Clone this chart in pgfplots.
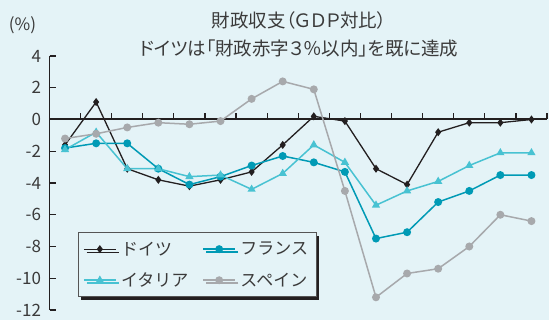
\documentclass[border=0pt]{standalone}
\usepackage{fontspec}
\setmainfont[RawFeature={+palt}]{Noto Sans CJK JP}
\newfontfamily\jpfull{Noto Sans CJK JP}
\usepackage{pgfplots}
\pgfplotsset{compat=1.18}
\usetikzlibrary{shadows}
\definecolor{bg}{HTML}{E4F3F7}
\definecolor{txt}{HTML}{3A3A3A}
\definecolor{axc}{HTML}{231F20}
\definecolor{deu}{HTML}{231F20}
\definecolor{fra}{HTML}{009AB5}
\definecolor{ita}{HTML}{48C2D2}
\definecolor{esp}{HTML}{A7A9AC}
\definecolor{lgb}{HTML}{555555}
\begin{document}
\begin{tikzpicture}
\fill[bg] (0bp,0bp) rectangle (549bp,320bp);
\useasboundingbox (0bp,0bp) rectangle (549bp,320bp);
\node[text=txt, font=\fontsize{18.5bp}{22bp}\selectfont] at (299bp,300bp) {財政収支（ＧＤＰ対比）};
\node[text=txt, font=\fontsize{18.5bp}{22bp}\selectfont] at (299bp,272bp) {ドイツは「財政赤字３％以内」を既に達成};
\node[text=txt, font=\fontsize{17bp}{20bp}\selectfont] at (22.5bp,295bp) {(\%)};
\begin{axis}[
  at={(49.5bp,10bp)}, anchor=south west,
  scale only axis, width=497.5bp, height=254bp,
  xmin=0.5, xmax=16.5, ymin=-12, ymax=4,
  axis x line=none, axis y line=left,
  axis line style={-},
  y axis line style={draw=axc, line width=1.3bp},
  ytick={-12,-10,...,4},
  ytick align=inside,
  major tick length=6bp,
  tick style={draw=axc, line width=1.2bp},
  yticklabel style={font=\fontsize{17bp}{20bp}\selectfont, text=txt, xshift=-5bp},
  /pgf/number format/assume math mode=true,
  clip=false,
  legend columns=2,
  legend cell align=left,
  legend style={
    at={(rel axis cs:0.0567,0.05)}, anchor=south west,
    draw=lgb, line width=0.8bp, fill=bg,
    inner xsep=5bp, inner ysep=6bp,
    row sep=10bp,
    font=\jpfull\fontsize{17bp}{20bp}\selectfont, text=txt,
    nodes={inner sep=3bp},
    /tikz/every odd column/.append style={column sep=1.5bp},
    /tikz/every even column/.append style={column sep=11bp},
    drop shadow={shadow xshift=3bp, shadow yshift=-3bp, fill=axc, opacity=1},
  },
  legend image code/.code={\draw[mark repeat=2,mark phase=2,#1] plot coordinates {(0bp,0bp) (16bp,0bp) (32bp,0bp)};},
]
\draw[axc, line width=2bp] (axis cs:0.5,0) -- (axis cs:16.5,0);
\pgfplotsinvokeforeach{0.5,1.5,2.5,3.5,4.5,5.5,6.5,7.5,8.5,9.5,10.5,11.5,12.5,13.5,14.5,15.5,16.5}{
  \draw[axc, line width=1.2bp] (axis cs:#1,0) -- ++(0bp,6.5bp);
}
\addplot[deu, line width=1.3bp, mark=diamond*, mark size=3bp, mark options={solid}] coordinates {
(1,-1.6) (2,1.1) (3,-3.1) (4,-3.8) (5,-4.2) (6,-3.8) (7,-3.3) (8,-1.6)
(9,0.2) (10,-0.1) (11,-3.1) (12,-4.1) (13,-0.8) (14,-0.2) (15,-0.2) (16,0.0)};
\addlegendentry{ドイツ}
\addplot[fra, line width=1.5bp, mark=*, mark size=3.2bp, mark options={solid}] coordinates {
(1,-1.8) (2,-1.5) (3,-1.5) (4,-3.1) (5,-4.1) (6,-3.6) (7,-2.9) (8,-2.3)
(9,-2.7) (10,-3.3) (11,-7.5) (12,-7.1) (13,-5.2) (14,-4.5) (15,-3.5) (16,-3.5)};
\addlegendentry{フランス}
\addplot[ita, line width=1.5bp, mark=triangle*, mark size=3.3bp, mark options={solid}] coordinates {
(1,-1.9) (2,-0.8) (3,-3.1) (4,-3.1) (5,-3.6) (6,-3.5) (7,-4.4) (8,-3.4)
(9,-1.6) (10,-2.7) (11,-5.4) (12,-4.5) (13,-3.9) (14,-2.9) (15,-2.1) (16,-2.1)};
\addlegendentry{イタリア}
\addplot[esp, line width=1.5bp, mark=*, mark size=3.2bp, mark options={solid}] coordinates {
(1,-1.2) (2,-0.9) (3,-0.5) (4,-0.2) (5,-0.3) (6,-0.1) (7,1.3) (8,2.4)
(9,1.9) (10,-4.5) (11,-11.2) (12,-9.7) (13,-9.4) (14,-8.0) (15,-6.0) (16,-6.4)};
\addlegendentry{スペイン}
\end{axis}
\end{tikzpicture}
\end{document}
